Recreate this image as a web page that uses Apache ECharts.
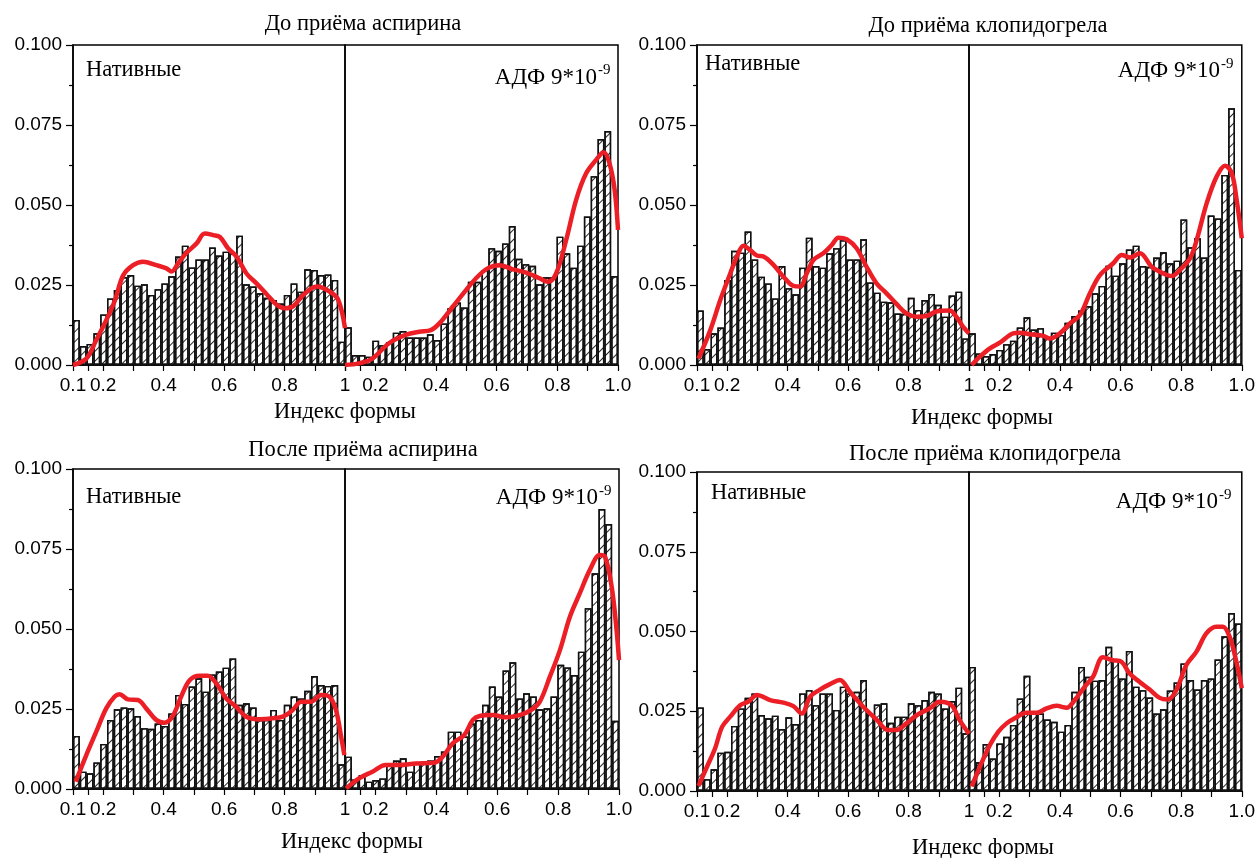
<!DOCTYPE html>
<html><head><meta charset="utf-8">
<script src="https://cdn.jsdelivr.net/npm/echarts@6/dist/echarts.min.js"></script>
<style>html,body{margin:0;padding:0;background:#fff}#c{width:1258px;height:858px}</style>
</head><body><div id="c"></div>
<script>
// ---------------- DATA ----------------
const binCenters = ['0.111','0.134','0.156','0.179','0.201','0.224','0.246','0.269','0.291','0.314',
  '0.336','0.359','0.381','0.404','0.426','0.449','0.471','0.494','0.516','0.539',
  '0.561','0.584','0.606','0.629','0.651','0.674','0.696','0.719','0.741','0.764',
  '0.786','0.809','0.831','0.854','0.876','0.899','0.921','0.944','0.966','0.989'];

const panelTitles = ['До приёма аспирина','До приёма клопидогрела','После приёма аспирина','После приёма клопидогрела'];
const leftHalfLabel = 'Нативные';
const rightHalfLabelMain = 'АДФ 9*10';
const rightHalfLabelSup = '-9';
const xAxisTitle = 'Индекс формы';

const xLabelValuesLeft = [0.1, 0.2, 0.4, 0.6, 0.8, 1.0];
const xLabelTextLeft = ['0.1', '0.2', '0.4', '0.6', '0.8', '1'];
const xLabelValuesRight = [0.2, 0.4, 0.6, 0.8, 1.0];
const xLabelTextRight = ['0.2', '0.4', '0.6', '0.8', '1.0'];
const xTickValues = [0.1, 0.15, 0.2, 0.3, 0.4, 0.5, 0.6, 0.7, 0.8, 0.9, 1.0];
const yTickLabels = ['0.000', '0.025', '0.050', '0.075', '0.100'];

// histogram heights (40 bins each half)
const barsAspBeforeNative = [0.0141,0.0059,0.0066,0.0099,0.0158,0.0208,0.0234,0.0275,0.0281,0.0248,
  0.0252,0.0219,0.0237,0.0255,0.0277,0.0339,0.0373,0.0305,0.0330,0.0330,
  0.0367,0.0342,0.0354,0.0349,0.0404,0.0252,0.0245,0.0224,0.0210,0.0203,
  0.0192,0.0219,0.0255,0.0229,0.0299,0.0297,0.0281,0.0283,0.0266,0.0073];
const barsAspBeforeADP = [0.0118,0.0031,0.0031,0.0026,0.0076,0.0062,0.0072,0.0101,0.0106,0.0086,
  0.0086,0.0086,0.0096,0.0078,0.0130,0.0177,0.0195,0.0180,0.0260,0.0260,
  0.0297,0.0365,0.0357,0.0380,0.0434,0.0332,0.0315,0.0310,0.0252,0.0274,
  0.0274,0.0401,0.0349,0.0304,0.0373,0.0464,0.0590,0.0706,0.0731,0.0278];
const barsClopBeforeNative = [0.0170,0.0050,0.0099,0.0117,0.0266,0.0357,0.0351,0.0417,0.0330,0.0276,
  0.0255,0.0208,0.0309,0.0240,0.0221,0.0304,0.0398,0.0309,0.0304,0.0349,
  0.0365,0.0390,0.0330,0.0330,0.0393,0.0258,0.0226,0.0198,0.0196,0.0161,
  0.0160,0.0210,0.0172,0.0203,0.0222,0.0188,0.0151,0.0217,0.0229,0.0083];
const barsClopBeforeADP = [0.0099,0.0036,0.0028,0.0034,0.0047,0.0065,0.0076,0.0117,0.0149,0.0111,
  0.0115,0.0085,0.0101,0.0094,0.0132,0.0153,0.0170,0.0184,0.0224,0.0247,
  0.0310,0.0279,0.0318,0.0361,0.0373,0.0309,0.0307,0.0336,0.0352,0.0318,
  0.0326,0.0455,0.0368,0.0396,0.0336,0.0467,0.0458,0.0594,0.0802,0.0297];
const barsAspAfterNative = [0.0166,0.0054,0.0049,0.0083,0.0141,0.0216,0.0249,0.0255,0.0252,0.0228,
  0.0190,0.0188,0.0205,0.0197,0.0236,0.0294,0.0266,0.0320,0.0346,0.0304,
  0.0358,0.0367,0.0379,0.0408,0.0263,0.0268,0.0255,0.0216,0.0216,0.0247,
  0.0216,0.0263,0.0289,0.0283,0.0307,0.0353,0.0325,0.0322,0.0325,0.0077];
const barsAspAfterADP = [0.0101,0.0030,0.0044,0.0023,0.0028,0.0033,0.0075,0.0089,0.0096,0.0054,
  0.0082,0.0082,0.0089,0.0103,0.0117,0.0179,0.0179,0.0164,0.0205,0.0216,
  0.0263,0.0320,0.0289,0.0370,0.0396,0.0283,0.0299,0.0289,0.0249,0.0252,
  0.0289,0.0388,0.0380,0.0356,0.0429,0.0565,0.0674,0.0875,0.0828,0.0213];
const barsClopAfterNative = [0.0262,0.0037,0.0068,0.0120,0.0123,0.0204,0.0259,0.0292,0.0306,0.0238,
  0.0228,0.0236,0.0194,0.0231,0.0210,0.0306,0.0316,0.0269,0.0306,0.0306,
  0.0254,0.0327,0.0306,0.0311,0.0348,0.0241,0.0271,0.0275,0.0214,0.0233,
  0.0233,0.0275,0.0269,0.0285,0.0311,0.0306,0.0259,0.0282,0.0324,0.0181];
const barsClopAfterADP = [0.0389,0.0090,0.0147,0.0102,0.0149,0.0170,0.0207,0.0290,0.0361,0.0248,
  0.0243,0.0224,0.0217,0.0186,0.0207,0.0311,0.0389,0.0358,0.0346,0.0348,
  0.0452,0.0410,0.0353,0.0439,0.0327,0.0316,0.0293,0.0243,0.0256,0.0315,
  0.0340,0.0400,0.0348,0.0318,0.0348,0.0353,0.0412,0.0485,0.0558,0.0525];

// smoothed density curves [shape index, density]
const fitAspBeforeNative = [[0.1,0],[0.144,0.002],[0.177,0.0078],[0.21,0.014],[0.238,0.02],[0.266,0.028],[0.299,0.0312],[0.332,0.0323],[0.376,0.0312],[0.409,0.0302],[0.426,0.0292],[0.448,0.0318],[0.475,0.035],[0.509,0.038],[0.536,0.0411],[0.564,0.0406],[0.586,0.04],[0.613,0.0365],[0.641,0.0339],[0.674,0.0286],[0.707,0.0255],[0.74,0.0222],[0.774,0.0188],[0.801,0.0177],[0.829,0.0184],[0.862,0.0219],[0.906,0.0245],[0.95,0.0229],[0.978,0.0203],[1.0,0.0115]];
const fitAspBeforeADP = [[0.1,0],[0.146,0.0005],[0.19,0.002],[0.245,0.0068],[0.3,0.0094],[0.345,0.0104],[0.383,0.0109],[0.411,0.013],[0.455,0.0182],[0.499,0.0234],[0.532,0.0271],[0.57,0.0302],[0.609,0.0312],[0.653,0.0299],[0.697,0.0289],[0.741,0.0271],[0.769,0.026],[0.796,0.0286],[0.829,0.039],[0.862,0.0516],[0.895,0.0599],[0.928,0.0641],[0.953,0.0665],[0.972,0.063],[0.989,0.0547],[1.0,0.0422]];
const fitClopBeforeNative = [[0.105,0.002],[0.144,0.0109],[0.177,0.0203],[0.21,0.0286],[0.232,0.0339],[0.254,0.0373],[0.276,0.0359],[0.298,0.0342],[0.32,0.0339],[0.353,0.0313],[0.386,0.0276],[0.419,0.0247],[0.441,0.0245],[0.463,0.0286],[0.485,0.0328],[0.518,0.0349],[0.546,0.0375],[0.568,0.0398],[0.595,0.0393],[0.628,0.0365],[0.661,0.0307],[0.694,0.0255],[0.727,0.0224],[0.76,0.0191],[0.793,0.0161],[0.826,0.0151],[0.859,0.0153],[0.892,0.0167],[0.936,0.017],[0.958,0.0151],[0.98,0.012],[1.0,0.0099]];
const fitClopBeforeADP = [[0.109,0],[0.136,0.0026],[0.169,0.0052],[0.202,0.007],[0.246,0.0099],[0.268,0.0101],[0.301,0.0096],[0.345,0.0091],[0.367,0.0083],[0.4,0.0099],[0.433,0.013],[0.466,0.0156],[0.499,0.0224],[0.532,0.0281],[0.576,0.0318],[0.604,0.0344],[0.631,0.0336],[0.664,0.0349],[0.703,0.0307],[0.741,0.0286],[0.769,0.0278],[0.796,0.0297],[0.829,0.0333],[0.851,0.039],[0.884,0.0505],[0.917,0.0589],[0.945,0.0623],[0.967,0.0599],[0.983,0.0516],[1.0,0.0396]];
const fitAspAfterNative = [[0.109,0.0023],[0.144,0.0106],[0.177,0.0179],[0.21,0.0252],[0.238,0.0289],[0.254,0.0296],[0.282,0.028],[0.315,0.0278],[0.342,0.0252],[0.375,0.0216],[0.403,0.0207],[0.43,0.0228],[0.458,0.0289],[0.486,0.034],[0.519,0.0354],[0.546,0.0354],[0.574,0.033],[0.607,0.0283],[0.64,0.0257],[0.673,0.0226],[0.717,0.0218],[0.761,0.0221],[0.794,0.0226],[0.827,0.0247],[0.855,0.0273],[0.888,0.0273],[0.921,0.0294],[0.948,0.0289],[0.97,0.0247],[0.987,0.0164],[0.998,0.0106]];
const fitAspAfterADP = [[0.104,0.0002],[0.146,0.0033],[0.19,0.0054],[0.234,0.0075],[0.278,0.0075],[0.333,0.008],[0.393,0.0082],[0.421,0.0101],[0.454,0.0143],[0.492,0.0169],[0.52,0.0216],[0.542,0.0228],[0.586,0.0231],[0.63,0.0224],[0.674,0.0231],[0.712,0.0247],[0.74,0.0273],[0.773,0.0351],[0.806,0.0434],[0.839,0.0539],[0.871,0.0611],[0.904,0.0684],[0.937,0.0731],[0.954,0.0726],[0.976,0.0632],[0.992,0.0497],[1.0,0.0403]];
const fitClopAfterNative = [[0.105,0.0016],[0.133,0.0076],[0.16,0.0134],[0.183,0.0201],[0.21,0.0233],[0.243,0.0269],[0.27,0.028],[0.298,0.0301],[0.342,0.0285],[0.386,0.0277],[0.419,0.0266],[0.447,0.0243],[0.474,0.0295],[0.507,0.0318],[0.54,0.0335],[0.573,0.0348],[0.606,0.0311],[0.65,0.0264],[0.694,0.0224],[0.733,0.0191],[0.76,0.0191],[0.793,0.0212],[0.827,0.0238],[0.87,0.0259],[0.903,0.028],[0.942,0.0269],[0.969,0.0222],[1.0,0.0179]];
const fitClopAfterADP = [[0.109,0.0014],[0.136,0.0076],[0.169,0.0144],[0.197,0.0186],[0.224,0.0212],[0.251,0.0228],[0.29,0.0245],[0.323,0.0245],[0.356,0.0259],[0.389,0.0267],[0.422,0.0261],[0.449,0.0285],[0.482,0.0327],[0.509,0.0358],[0.542,0.0419],[0.575,0.041],[0.603,0.0405],[0.63,0.0368],[0.663,0.0342],[0.696,0.0318],[0.729,0.0292],[0.756,0.0287],[0.784,0.0316],[0.817,0.0395],[0.85,0.0436],[0.883,0.0494],[0.916,0.0515],[0.938,0.0515],[0.96,0.0483],[0.981,0.041],[1.0,0.0322]];

// ---------------- LAYOUT ----------------
const halves = [
  {bars: barsAspBeforeNative, fit: fitAspBeforeNative, box: [73, 45, 272, 320], left: true},
  {bars: barsAspBeforeADP, fit: fitAspBeforeADP, box: [345, 45, 273, 320], left: false},
  {bars: barsClopBeforeNative, fit: fitClopBeforeNative, box: [697, 45, 272, 320], left: true},
  {bars: barsClopBeforeADP, fit: fitClopBeforeADP, box: [969, 45, 273, 320], left: false},
  {bars: barsAspAfterNative, fit: fitAspAfterNative, box: [73, 469, 272, 320], left: true},
  {bars: barsAspAfterADP, fit: fitAspAfterADP, box: [345, 469, 274, 320], left: false},
  {bars: barsClopAfterNative, fit: fitClopAfterNative, box: [697, 472, 272, 319], left: true},
  {bars: barsClopAfterADP, fit: fitClopAfterADP, box: [969, 472, 273, 319], left: false}
];
const titlePos = [[363, 24], [988, 26], [363, 450], [985, 454]];
const nativePos = [[86, 70], [705, 64], [86, 497], [711, 493]];
const adpPos = [[597, 78, 70], [1220, 71, 64], [598, 498, 491], [1218, 502, 495]];
const axisNamePos = [[345, 412], [982, 418], [352, 842], [983, 848]];

const SERIF = '"Liberation Serif","Times New Roman",serif';
const SANS = '"Liberation Sans",Arial,sans-serif';
const RED = '#ec1f26';

const grid = [], xAxis = [], yAxis = [], series = [];
halves.forEach((h, i) => {
  const [l, t, w, hh] = h.box;
  grid.push({left: l, top: t, width: w, height: hh, show: true, borderColor: '#000', borderWidth: 1.5, backgroundColor: 'transparent'});
  xAxis.push({type: 'category', gridIndex: i, data: binCenters, show: false, boundaryGap: true});
  const lv = h.left ? xLabelValuesLeft : xLabelValuesRight;
  const lt = h.left ? xLabelTextLeft : xLabelTextRight;
  xAxis.push({
    type: 'value', gridIndex: i, min: 0.1, max: 1.0, position: 'bottom',
    axisLine: {show: true, onZero: false, lineStyle: {color: '#000', width: 1.5}},
    axisTick: {show: true, customValues: xTickValues, length: 6, lineStyle: {color: '#000', width: 1.2}},
    axisLabel: {show: true, customValues: lv, margin: 11, color: '#000', fontFamily: SANS, fontSize: 19,
      formatter: v => { const k = lv.findIndex(x => Math.abs(x - v) < 1e-6); return k >= 0 ? lt[k] : ''; }},
    splitLine: {show: false}
  });
  yAxis.push({
    type: 'value', gridIndex: i, min: 0, max: 0.1, interval: 0.025,
    show: h.left,
    axisLine: {show: true, lineStyle: {color: '#000', width: 1.5}},
    axisTick: {show: true, length: 7, lineStyle: {color: '#000', width: 1.2}},
    minorTick: {show: true, splitNumber: 2, length: 4, lineStyle: {color: '#000', width: 1.2}},
    axisLabel: {show: true, margin: 11, color: '#000', fontFamily: SANS, fontSize: 19,
      formatter: v => yTickLabels[Math.round(v / 0.025)]},
    splitLine: {show: false}
  });
  series.push({
    type: 'bar', xAxisIndex: 2 * i, yAxisIndex: i, data: h.bars,
    barCategoryGap: '0%', silent: true,
    itemStyle: {color: '#fff', borderColor: '#111', borderWidth: 1.4,
      decal: {symbol: 'rect', symbolSize: 1, color: 'rgba(0,0,0,0.85)', dashArrayX: [1, 0], dashArrayY: [1, 6], rotation: -Math.PI / 4}},
    z: 2
  });
  series.push({
    type: 'line', xAxisIndex: 2 * i + 1, yAxisIndex: i, data: h.fit,
    smooth: 0.35, showSymbol: false, silent: true,
    lineStyle: {color: RED, width: 4.5}, z: 5
  });
});

const graphic = [];
panelTitles.forEach((s, k) => {
  graphic.push({type: 'text', x: titlePos[k][0], y: titlePos[k][1], z: 100,
    style: {text: s, fill: '#000', font: '22.5px ' + SERIF, align: 'center', verticalAlign: 'middle'}});
  graphic.push({type: 'text', x: nativePos[k][0], y: nativePos[k][1], z: 100,
    style: {text: leftHalfLabel, fill: '#000', font: '22.5px ' + SERIF, align: 'left', verticalAlign: 'middle'}});
  graphic.push({type: 'text', x: adpPos[k][0], y: adpPos[k][1], z: 100,
    style: {text: rightHalfLabelMain, fill: '#000', font: '23px ' + SERIF, align: 'right', verticalAlign: 'middle'}});
  graphic.push({type: 'text', x: adpPos[k][0] + 1, y: adpPos[k][2], z: 100,
    style: {text: rightHalfLabelSup, fill: '#000', font: '15px ' + SERIF, align: 'left', verticalAlign: 'middle'}});
  graphic.push({type: 'text', x: axisNamePos[k][0], y: axisNamePos[k][1], z: 100,
    style: {text: xAxisTitle, fill: '#000', font: '22.5px ' + SERIF, align: 'center', verticalAlign: 'middle'}});
});

const chart = echarts.init(document.getElementById('c'), null, {renderer: 'canvas'});
chart.setOption({
  animation: false,
  backgroundColor: '#fff',
  grid, xAxis, yAxis, series, graphic
});
</script></body></html>
